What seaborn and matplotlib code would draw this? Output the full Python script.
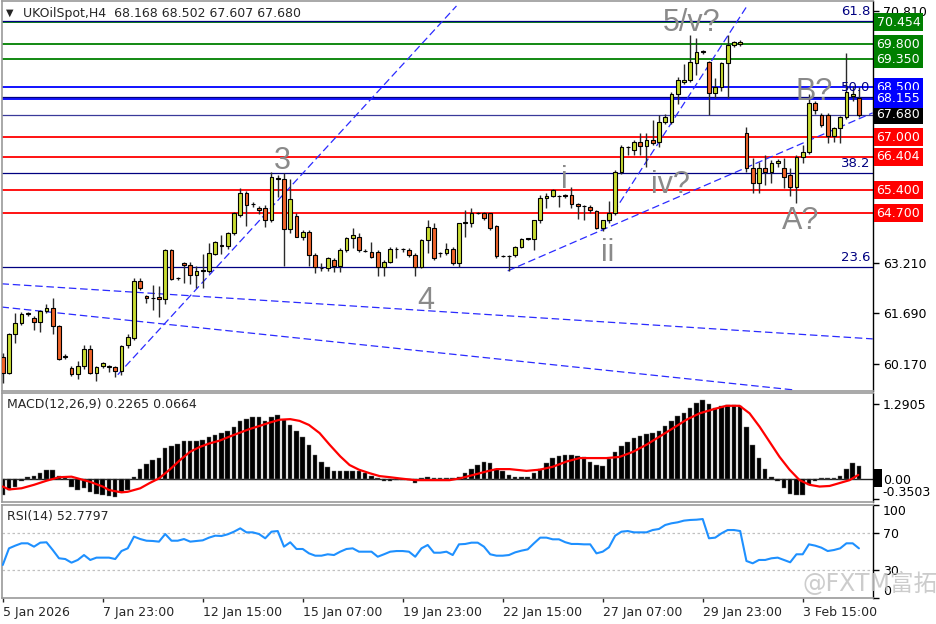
import numpy as np
import matplotlib
matplotlib.use('Agg')
import matplotlib.pyplot as plt
import matplotlib.transforms as mtransforms
from matplotlib.patches import Rectangle
import seaborn as sns

sns.set_style('white')
plt.rcParams['font.family'] = ['DejaVu Sans', 'Noto Sans CJK SC']

# H4 bars, bar 0 = 5 Jan 2026
opens = [60.38, 59.89, 61.07, 61.39, 61.66, 61.54, 61.44, 61.77, 61.84, 61.31,
         60.36, 60.04, 59.86, 60.09, 60.61, 59.89, 60.11, 60.10, 60.07, 59.94,
         60.74, 60.94, 62.65, 62.22, 62.15, 62.18, 62.12, 63.60, 62.75, 63.20,
         63.14, 62.83, 62.97, 62.98, 63.48, 63.75, 63.73, 64.12, 64.66, 65.33,
         64.99, 64.86, 64.86, 64.50, 65.78, 65.74, 64.22, 64.63, 64.00, 64.15,
         63.45, 63.06, 63.05, 63.30, 63.12, 63.60, 63.95, 64.00, 63.58, 63.55,
         63.55, 63.08, 63.25, 63.62, 63.62, 63.60, 63.45, 63.08, 63.90, 64.25,
         63.50, 63.50, 63.62, 63.20, 64.42, 64.42, 64.71, 64.71, 64.70, 64.32,
         63.42, 63.42, 63.45, 63.70, 63.92, 63.92, 64.49, 65.16, 65.23, 65.23,
         65.26, 65.26, 64.99, 64.93, 64.90, 64.76, 64.25, 64.49, 64.71, 65.96,
         66.70, 66.61, 66.86, 66.73, 66.91, 66.86, 67.46, 67.46, 68.30, 68.67,
         68.72, 69.22, 69.57, 69.27, 68.34, 68.52, 69.22, 69.77, 69.80, 67.11,
         66.06, 65.61, 66.06, 65.96, 66.23, 66.08, 65.86, 65.51, 66.41, 66.56,
         68.02, 67.67, 67.67, 67.03, 67.26, 67.60, 68.25, 68.168]
highs = [60.50, 61.10, 61.71, 61.74, 61.72, 61.60, 61.80, 61.97, 62.15, 61.35,
         60.45, 60.10, 60.24, 60.74, 60.74, 60.10, 60.22, 60.12, 60.10, 60.75,
         61.07, 62.75, 62.75, 62.25, 62.55, 62.50, 63.62, 63.62, 62.78, 63.25,
         63.25, 63.12, 63.48, 63.80, 63.88, 64.05, 64.15, 64.75, 65.46, 65.38,
         65.05, 64.93, 64.95, 65.96, 65.85, 65.91, 65.75, 64.70, 64.20, 64.20,
         63.50, 63.20, 63.40, 63.35, 63.65, 64.00, 64.25, 64.10, 63.62, 63.85,
         63.60, 63.30, 63.70, 63.70, 63.65, 63.65, 63.50, 63.92, 64.50, 64.40,
         63.55, 63.80, 63.70, 64.42, 64.80, 64.85, 64.75, 64.74, 64.72, 64.35,
         63.45, 63.45, 63.72, 63.95, 63.97, 64.50, 65.26, 65.31, 65.45, 65.26,
         65.30, 65.49, 65.02, 64.96, 64.95, 64.80, 64.50, 65.06, 66.00, 66.76,
         66.72, 66.90, 67.11, 67.11, 67.50, 67.67, 67.70, 68.35, 68.80, 69.20,
         70.08, 69.98, 69.62, 69.30, 68.77, 69.25, 70.08, 69.90, 69.92, 67.31,
         66.36, 66.26, 66.46, 66.30, 66.33, 66.36, 66.06, 66.46, 66.76, 68.30,
         68.08, 67.72, 67.72, 67.30, 67.65, 69.52, 68.55, 68.502]
lows = [59.60, 59.85, 60.81, 61.35, 61.60, 61.19, 61.14, 61.70, 61.07, 60.28,
        60.30, 59.80, 59.71, 60.00, 59.85, 59.64, 60.05, 59.91, 59.77, 59.83,
        60.64, 60.90, 62.40, 61.99, 61.79, 61.57, 61.97, 62.68, 62.70, 62.60,
        62.58, 62.45, 62.45, 62.92, 63.45, 63.48, 63.62, 64.05, 64.60, 64.32,
        64.90, 64.68, 64.30, 64.45, 65.20, 63.12, 64.10, 63.98, 63.90, 63.12,
        62.90, 62.98, 62.98, 62.95, 62.95, 63.55, 63.65, 63.55, 63.55, 63.35,
        62.80, 62.80, 63.20, 63.35, 63.55, 63.40, 62.80, 63.05, 63.50, 63.30,
        63.40, 63.45, 63.15, 63.10, 64.00, 64.30, 64.68, 64.50, 64.20, 63.35,
        63.40, 62.98, 63.40, 63.65, 63.90, 63.60, 64.40, 64.86, 65.20, 64.90,
        65.15, 64.86, 64.53, 64.50, 64.70, 64.22, 64.17, 64.40, 64.65, 65.90,
        66.46, 66.46, 66.46, 66.11, 66.75, 66.70, 67.40, 67.40, 68.00, 68.60,
        68.65, 68.87, 69.50, 67.67, 68.17, 68.40, 68.17, 69.70, 69.75, 65.95,
        65.31, 65.31, 65.56, 65.61, 66.10, 65.46, 65.21, 65.01, 66.21, 66.50,
        67.70, 67.30, 66.81, 66.86, 66.81, 67.55, 68.10, 67.607]
closes = [59.90, 61.07, 61.39, 61.66, 61.69, 61.44, 61.77, 61.84, 61.31, 60.31,
          60.39, 59.86, 60.09, 60.61, 59.89, 60.07, 60.19, 60.07, 59.94, 60.72,
          60.99, 62.65, 62.45, 62.15, 62.16, 62.12, 63.60, 62.72, 62.74, 63.14,
          62.85, 62.97, 63.00, 63.52, 63.84, 63.73, 64.10, 64.71, 65.33, 64.94,
          64.98, 64.79, 64.49, 65.81, 65.73, 64.22, 65.13, 64.00, 64.15, 63.45,
          63.08, 63.05, 63.35, 63.13, 63.60, 63.95, 64.05, 63.60, 63.58, 63.40,
          63.08, 63.25, 63.62, 63.63, 63.63, 63.45, 63.08, 63.90, 64.28, 63.35,
          63.50, 63.62, 63.20, 64.40, 64.43, 64.71, 64.72, 64.56, 64.25, 63.42,
          63.42, 63.42, 63.70, 63.92, 63.95, 64.49, 65.16, 65.23, 65.41, 65.22,
          65.21, 64.99, 64.93, 64.92, 64.80, 64.25, 64.49, 64.71, 65.96, 66.71,
          66.70, 66.86, 66.73, 66.91, 66.83, 67.46, 67.62, 68.30, 68.72, 68.72,
          69.27, 69.57, 69.58, 68.34, 68.52, 69.22, 69.77, 69.87, 69.87, 66.06,
          65.61, 66.06, 65.96, 66.23, 66.29, 65.81, 65.51, 66.41, 66.56, 68.02,
          67.82, 67.36, 67.03, 67.26, 67.60, 68.37, 68.30, 67.680]

macd_hist = [-0.27, -0.19, -0.14, -0.04, 0.03, 0.05, 0.10, 0.16, 0.16, 0.05,
             0.03, -0.13, -0.19, -0.16, -0.23, -0.25, -0.27, -0.30, -0.31, -0.22,
             -0.19, 0.03, 0.17, 0.26, 0.33, 0.36, 0.53, 0.57, 0.61, 0.65,
             0.66, 0.66, 0.67, 0.72, 0.76, 0.79, 0.82, 0.90, 1.00, 1.04,
             1.06, 1.06, 1.00, 1.07, 1.10, 1.02, 0.93, 0.83, 0.73, 0.59,
             0.41, 0.30, 0.21, 0.14, 0.13, 0.13, 0.14, 0.13, 0.10, 0.05,
             0.01, -0.04, -0.04, -0.02, -0.02, -0.02, -0.07, 0.01, 0.03, 0.01,
             0.01, 0.01, 0.01, 0.03, 0.10, 0.18, 0.24, 0.29, 0.27, 0.18,
             0.13, 0.07, 0.04, 0.04, 0.04, 0.11, 0.18, 0.28, 0.36, 0.40,
             0.41, 0.41, 0.40, 0.38, 0.30, 0.24, 0.22, 0.34, 0.47, 0.57,
             0.64, 0.70, 0.74, 0.77, 0.79, 0.83, 0.91, 0.99, 1.08, 1.14,
             1.23, 1.31, 1.36, 1.29, 1.23, 1.25, 1.27, 1.27, 1.26, 0.90,
             0.59, 0.36, 0.17, 0.04, -0.03, -0.16, -0.26, -0.28, -0.28, -0.10,
             -0.03, 0.01, 0.01, 0.01, 0.05, 0.17, 0.27, 0.23]

signal_bar = [0, 1, 3, 5, 7, 9, 11, 12, 14, 16,
              17, 19, 20, 22, 23.5, 25, 26.7, 28.3, 30, 31.5,
              33, 34.7, 36.3, 38, 39.5, 41, 42.7, 44.3, 46, 47.5,
              49, 50.7, 52.3, 54, 55.5, 57, 58.7, 60.3, 62, 63.5,
              66, 68.9, 71.5, 73.1, 75.3, 77.4, 79, 81.1, 83.8, 85.9,
              88, 90.2, 92.3, 94.5, 96.6, 98.7, 100.9, 103, 105.1, 107.2,
              109.4, 111.5, 113.7, 115.8, 117.9, 119.5, 121.1, 122.7, 124.3, 125.9,
              127.5, 129.1, 130.7, 132.3, 133.9, 135.5, 136.9]
signal_val = [-0.13, -0.18, -0.16, -0.10, -0.03, 0.03, 0.04, 0.01, -0.05, -0.13,
              -0.19, -0.23, -0.22, -0.16, -0.07, 0.01, 0.16, 0.32, 0.47, 0.55,
              0.61, 0.66, 0.73, 0.80, 0.86, 0.91, 0.97, 1.02, 1.03, 1.00,
              0.93, 0.79, 0.59, 0.39, 0.24, 0.16, 0.10, 0.05, 0.03, 0.01,
              -0.02, -0.02, -0.02, 0.01, 0.07, 0.13, 0.17, 0.17, 0.14, 0.16,
              0.21, 0.30, 0.36, 0.36, 0.36, 0.38, 0.47, 0.59, 0.73, 0.87,
              1.02, 1.13, 1.20, 1.26, 1.26, 1.13, 0.90, 0.64, 0.38, 0.16,
              -0.02, -0.10, -0.13, -0.12, -0.07, -0.02, 0.07]

rsi = [35.5, 53.4, 56.3, 58.8, 58.8, 55.2, 59.5, 59.9, 51.6, 42.7,
       41.9, 38.0, 40.9, 46.2, 40.9, 43.4, 43.4, 43.4, 41.9, 50.5,
       53.4, 66.0, 63.4, 61.6, 61.3, 60.6, 68.8, 61.6, 61.6, 63.4,
       60.6, 61.3, 62.0, 64.9, 67.0, 66.7, 68.5, 71.3, 74.9, 70.6,
       70.6, 68.8, 64.2, 71.3, 72.0, 55.2, 59.9, 52.7, 52.7, 48.0,
       45.5, 45.5, 47.0, 46.2, 49.8, 52.7, 53.4, 49.8, 49.8, 49.8,
       44.4, 47.0, 49.8, 50.5, 50.5, 49.8, 44.4, 53.4, 57.0, 48.7,
       48.7, 49.8, 46.2, 57.7, 58.1, 59.5, 59.5, 55.2, 47.0, 45.5,
       45.5, 46.2, 49.1, 50.9, 52.3, 58.8, 64.9, 64.9, 63.1, 63.1,
       60.0, 58.1, 58.1, 57.7, 57.7, 48.0, 49.8, 54.5, 67.0, 71.3,
       72.0, 70.6, 70.6, 70.6, 73.1, 74.2, 78.5, 80.3, 81.4, 83.2,
       83.9, 84.2, 84.9, 64.2, 64.9, 69.5, 73.1, 73.1, 72.0, 39.8,
       37.3, 40.9, 40.9, 42.7, 43.4, 40.9, 38.4, 47.0, 47.0, 57.7,
       56.3, 54.1, 50.5, 51.6, 53.4, 58.8, 58.8, 53.4]

date_ticks = [0, 16, 32, 48, 64, 80, 96, 112, 128]
date_labels = ['5 Jan 2026', '7 Jan 23:00', '12 Jan 15:00', '15 Jan 07:00',
               '19 Jan 23:00', '22 Jan 15:00', '27 Jan 07:00', '29 Jan 23:00',
               '3 Feb 15:00']

green_levels = [70.454, 69.800, 69.350]
blue_levels = [68.500, 68.155]
red_levels = [67.000, 66.404, 65.400, 64.700]
last_price = 67.680
fib_levels = [63.09, 65.92, 68.21, 70.50]
fib_names = ['23.6', '38.2', '50.0', '61.8']
axis_prices = [60.170, 61.690, 63.210, 70.810]

wave_names = ['3', '4', 'i', 'ii', 'iv?', '5/v?', 'B?', 'A?']
wave_bar = [44.8, 67.7, 89.9, 96.8, 106.9, 110.2, 129.8, 127.7]
wave_price = [66.28, 62.07, 65.71, 63.51, 65.56, 70.44, 68.36, 64.47]

trend_lines = [((18.4, 59.84), (72.6, 70.95)),
               ((80.8, 62.97), (139.2, 67.73)),
               ((95.8, 64.17), (119.2, 70.98)),
               ((-0.2, 62.58), (139.2, 60.92)),
               ((-0.2, 61.88), (126.7, 59.38))]

bull = '#c8dc32'
bear = '#f0642a'
navy = '#000080'
xlim = (-0.12, 139.25)

fig = plt.figure(figsize=(9.36, 6.24), dpi=100)
ax = fig.add_axes([2 / 936, 1 - 391 / 624, 871 / 936, 390 / 624])
ax2 = fig.add_axes([2 / 936, 1 - 502 / 624, 871 / 936, 109 / 624])
ax3 = fig.add_axes([2 / 936, 1 - 598 / 624, 871 / 936, 93 / 624])

for a in (ax, ax2, ax3):
    a.set_xlim(*xlim)
    for s in ('left', 'top', 'bottom'):
        a.spines[s].set_color('#9a9a9a')
        a.spines[s].set_linewidth(1.2)
    a.spines['right'].set_color('black')
    a.spines['right'].set_linewidth(1)
    a.yaxis.tick_right()
    a.tick_params(axis='y', direction='out', length=4, width=1, pad=3,
                  labelsize=9, colors='black')
    a.grid(False)

# ---- main price panel ----
ax.set_ylim(59.35, 71.10)
for p in green_levels:
    ax.axhline(p, color='#008000', lw=1.3, zorder=1)
for p in blue_levels:
    ax.axhline(p, color='#0000ff', lw=1.3, zorder=1)
for p in red_levels:
    ax.axhline(p, color='#ff0000', lw=1.3, zorder=1)
for p in fib_levels:
    ax.axhline(p, color=navy, lw=0.9, zorder=1)
ax.axhline(last_price, color='#3a3a9a', lw=0.9, zorder=1)

for (x0, y0), (x1, y1) in trend_lines:
    ax.plot([x0, x1], [y0, y1], color='#2b2bff', lw=0.9,
            linestyle=(0, (6, 3)), zorder=2)

x = np.arange(len(opens))
o = np.array(opens)
c = np.array(closes)
up = c >= o
ax.vlines(x, lows, highs, color='#2a2a2a', lw=1, zorder=3)
ax.bar(x[up], (c - o)[up], bottom=o[up], width=0.62, color=bull,
       edgecolor='black', linewidth=0.8, zorder=4)
ax.bar(x[~up], (c - o)[~up], bottom=o[~up], width=0.62, color=bear,
       edgecolor='black', linewidth=0.8, zorder=4)

for name, b, p in zip(wave_names, wave_bar, wave_price):
    ax.text(b, p, name, color='#8a8a8a', fontsize=22, ha='center',
            va='center', family='Liberation Sans', zorder=5)

for name, p in zip(fib_names, fib_levels):
    ax.annotate(name, xy=(1 - 3 / 871, p), xycoords=('axes fraction', 'data'),
                xytext=(0, 2), textcoords='offset points', ha='right',
                va='bottom', color=navy, fontsize=9.5, zorder=6)

ax.set_yticks(axis_prices)
ax.set_yticklabels(['%.3f' % p for p in axis_prices])
ax.set_xticks([])

trans = mtransforms.blended_transform_factory(ax.transAxes, ax.transData)
boxes = ([(p, '#008000') for p in green_levels] +
         [(blue_levels[0], '#0000ff'), (last_price, 'black'),
          (blue_levels[1], '#0000ff')] +
         [(p, '#ff0000') for p in red_levels])
for p, col in boxes:
    ax.text(1 + 3.5 / 871, p, '%.3f' % p, transform=trans, ha='left',
            va='center', color='white', fontsize=9,
            bbox=dict(boxstyle='square,pad=0.2', fc=col, ec='none'))

ax.text(8 / 871, 0.969, '\u25bc', transform=ax.transAxes, fontsize=7,
        va='center', ha='center')
ax.text(21 / 871, 0.969, 'UKOilSpot,H4  68.168 68.502 67.607 67.680',
        transform=ax.transAxes, fontsize=9, va='center', ha='left')

# ---- MACD panel ----
ax2.set_ylim(-0.396, 1.48)
ax2.bar(x, macd_hist, width=0.72, color='black', edgecolor='#707070',
        linewidth=0.3, zorder=2)
ax2.axhline(0, color='#202020', lw=1, zorder=1)
sns.lineplot(x=signal_bar, y=signal_val, ax=ax2, color='#ff0000', lw=1.6,
             zorder=3)
ax2.set_yticks([1.2905, 0.0, -0.3503])
ax2.set_yticklabels(['1.2905', '0.00', '-0.3503'])
ax2.get_yticklabels()[2].set_va('bottom')
ax2.set_xticks([])
ax2.set_xlabel('')
ax2.set_ylabel('')
ax2.text(5 / 871, 0.89, 'MACD(12,26,9) 0.2265 0.0664',
         transform=ax2.transAxes, fontsize=9, va='center', ha='left')
# small black value marker next to the zero label
trans2 = mtransforms.blended_transform_factory(ax2.transAxes, ax2.transData)
ax2.add_patch(Rectangle((1 + 1 / 871, -0.14), 8 / 871, 0.31, transform=trans2,
                        fc='black', ec='none', clip_on=False, zorder=0.5))

# ---- RSI panel ----
ax3.set_ylim(0, 100)
for lvl in (70, 30):
    ax3.axhline(lvl, color='#c0c0c0', lw=0.9, linestyle=(0, (2, 2)), zorder=1)
sns.lineplot(x=x, y=rsi, ax=ax3, color='#1e90ff', lw=1.5, zorder=3)
ax3.set_yticks([100, 70, 30, 0])
ax3.set_yticklabels(['100', '70', '30', '0'])
ax3.get_yticklabels()[0].set_va('top')
ax3.get_yticklabels()[3].set_va('bottom')
ax3.set_xticks(date_ticks)
ax3.set_xticklabels(date_labels, ha='left')
ax3.tick_params(axis='x', direction='out', length=3, width=1, pad=3,
                labelsize=9, bottom=True)
ax3.set_xlabel('')
ax3.set_ylabel('')
ax3.text(5 / 871, 0.871, 'RSI(14) 52.7797', transform=ax3.transAxes,
         fontsize=9, va='center', ha='left')

fig.text(802 / 936, 1 - 584 / 624, '@FXTM富拓', fontsize=17, color='#c4c4c4',
         ha='left', va='center', alpha=0.85)

fig.savefig('out.png', dpi=100)
